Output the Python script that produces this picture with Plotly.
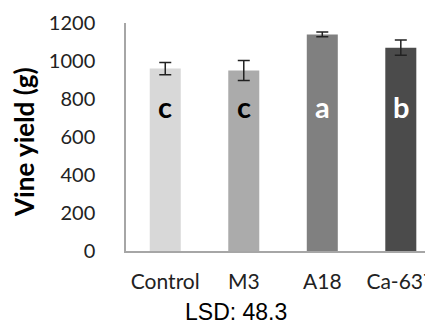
import plotly.graph_objects as go

categories = ["Control", "M3", "A18", "Ca-637"]
yield_g = [960, 950, 1140, 1070]
err_g = [32, 52, 12, 40]
letters = ["c", "c", "a", "b"]
letter_colors = ["black", "black", "white", "white"]
bar_colors = ["#d8d8d8", "#ababab", "#808080", "#4b4b4b"]
letter_y = 760
y_ticks = [0, 200, 400, 600, 800, 1000, 1200]

fig = go.Figure()
fig.add_trace(go.Bar(
    x=categories, y=yield_g,
    marker=dict(color=bar_colors, line=dict(width=0)),
    width=0.395,
    error_y=dict(type="data", array=err_g, visible=True,
                 color="#222222", thickness=1.5, width=6),
    showlegend=False,
))

for cat, letter, col in zip(categories, letters, letter_colors):
    fig.add_annotation(x=cat, y=letter_y, text=f"<b>{letter}</b>",
                       showarrow=False, xref="x", yref="y",
                       font=dict(family="Lato", size=29, color=col))

fig.add_annotation(text="<b>Vine yield (g)</b>", textangle=-90,
                   x=-0.33, y=0.477, xref="paper", yref="paper",
                   xanchor="center", yanchor="middle", showarrow=False,
                   font=dict(family="Lato", size=26, color="black"))

fig.add_annotation(text="LSD: 48.3", x=0.357, y=-0.269,
                   xref="paper", yref="paper", xanchor="center",
                   yanchor="middle", showarrow=False, height=22,
                   font=dict(family="Liberation Sans", size=23, color="black"))

# the page body adds an 8px margin, so the figure is sized to fit after it
fig.update_layout(
    width=425, height=316,
    margin=dict(l=118, r=0, t=15, b=73, autoexpand=False),
    plot_bgcolor="white", paper_bgcolor="white",
    bargap=0.6,
    font=dict(family="Lato", size=19, color="#222222"),
)
fig.update_xaxes(
    range=[-0.5, 3.41], showline=True, linecolor="#a6a6a6", linewidth=1.5,
    showgrid=False, ticks="", ticklabelstandoff=11, zeroline=False,
    automargin=False,
    tickfont=dict(family="Lato", size=21, color="#222222"),
)
fig.update_yaxes(
    range=[0, 1200], tickvals=y_ticks, showline=True, linecolor="#a6a6a6",
    linewidth=1.5, showgrid=False, zeroline=False, ticks="",
    ticklabelstandoff=25, automargin=False,
    tickfont=dict(family="Lato", size=20, color="#222222"),
)

fig.write_html("out.html")
